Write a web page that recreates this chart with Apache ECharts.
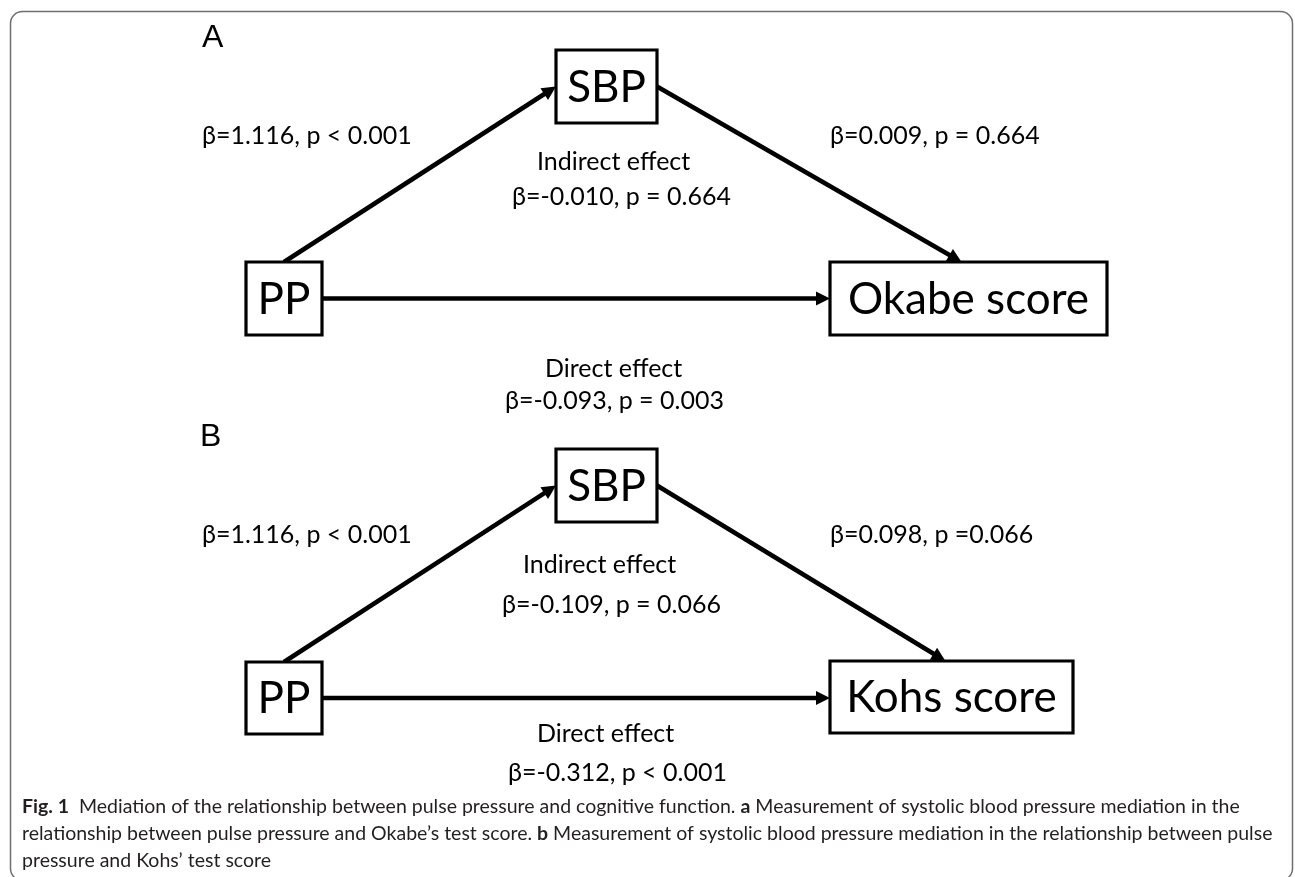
<!DOCTYPE html>
<html><head><meta charset="utf-8">
<script src="https://cdn.jsdelivr.net/npm/echarts@6/dist/echarts.min.js"></script>
<style>html,body{margin:0;padding:0;background:#fff}#c{width:1295px;height:877px}</style>
</head><body><div id="c"></div>
<script>
// ---- data ----
const panelLabels = ['A', 'B'];
const predictorNames = ['PP', 'PP'];
const mediatorNames = ['SBP', 'SBP'];
const outcomeNames = ['Okabe score', 'Kohs score'];
const pathABeta = [1.116, 1.116];
const pathAP = ['p < 0.001', 'p < 0.001'];
const pathBBeta = [0.009, 0.098];
const pathBP = ['p = 0.664', 'p =0.066'];
const indirectBeta = [-0.010, -0.109];
const indirectP = ['p = 0.664', 'p = 0.066'];
const directBeta = [-0.093, -0.312];
const directP = ['p = 0.003', 'p < 0.001'];
const effectTitles = ['Indirect effect', 'Direct effect'];
const captionLines = [
  '{b|Fig. 1}  Mediation of the relationship between pulse pressure and cognitive function. {b|a} Measurement of systolic blood pressure mediation in the',
  'relationship between pulse pressure and Okabe\u2019s test score. {b|b} Measurement of systolic blood pressure mediation in the relationship between pulse',
  'pressure and Kohs\u2019 test score'
];

// ---- layout (diagram units, y downward) ----
const layout = [
  { label: [202, 38], pred: [246, 262, 322, 335], med: [556, 50, 657, 123], out: [830, 262, 1107, 335], tipFrac: 0.475,
    tA: [202, 136], tB: [830, 136], tIndT: [537, 162], tIndV: [512, 197], tDirT: [545, 369], tDirV: [505, 401] },
  { label: [200, 437], pred: [246, 662, 322, 734], med: [556, 449, 657, 522], out: [830, 661, 1073, 733], tipFrac: 0.475,
    tA: [202, 535], tB: [830, 535], tIndT: [523, 565], tIndV: [502, 605], tDirT: [537, 734], tDirV: [508, 773] }
];

const FONT = 'Lato, "Noto Sans", sans-serif';
const fmt = (b, p) => '\u03B2=' + b.toFixed(3) + ', ' + p;

function renderPanel(params, api) {
  const i = api.value(0);
  const L = layout[i];
  const P = (x, y) => api.coord([x, y]);
  const children = [];
  const text = (pos, str, size, extra) => {
    const q = P(pos[0], pos[1]);
    children.push({ type: 'text', style: Object.assign({ text: str, x: q[0], y: q[1], align: 'left', verticalAlign: 'middle', fontFamily: FONT, fontSize: size, fill: '#000' }, extra || {}) });
  };
  const arrow = (a, b) => {
    const s = P(a[0], a[1]), e = P(b[0], b[1]);
    const dx = e[0] - s[0], dy = e[1] - s[1], len = Math.hypot(dx, dy);
    const ux = dx / len, uy = dy / len;
    const hl = 14, hw = 7;
    const bx = e[0] - ux * hl, by = e[1] - uy * hl;
    children.push({ type: 'line', shape: { x1: s[0], y1: s[1], x2: bx + ux * 2, y2: by + uy * 2 }, style: { stroke: '#000', lineWidth: 4.5 } });
    children.push({ type: 'polygon', shape: { points: [[e[0], e[1]], [bx - uy * hw, by + ux * hw], [bx + uy * hw, by - ux * hw]] }, style: { fill: '#000' } });
  };
  const box = (b, name) => {
    const p0 = P(b[0], b[1]), p1 = P(b[2], b[3]);
    children.push({ type: 'rect', shape: { x: p0[0], y: Math.min(p0[1], p1[1]), width: p1[0] - p0[0], height: Math.abs(p1[1] - p0[1]) },
      style: { fill: '#fff', stroke: '#000', lineWidth: 3.2 } });
    children.push({ type: 'text', style: { text: name, x: (p0[0] + p1[0]) / 2, y: (p0[1] + p1[1]) / 2 + 1, align: 'center', verticalAlign: 'middle', fontFamily: FONT, fontSize: 44, fill: '#000' } });
  };
  const pr = L.pred, md = L.med, ot = L.out;
  // arrows
  arrow([(pr[0] + pr[2]) / 2, pr[1]], [md[0], (md[1] + md[3]) / 2]);
  arrow([md[2], (md[1] + md[3]) / 2], [ot[0] + (ot[2] - ot[0]) * L.tipFrac, ot[1]]);
  arrow([pr[2], (pr[1] + pr[3]) / 2], [ot[0], (pr[1] + pr[3]) / 2]);
  // boxes
  box(pr, predictorNames[i]);
  box(md, mediatorNames[i]);
  box(ot, outcomeNames[i]);
  // labels
  text(L.label, panelLabels[i], 32, { fontFamily: '"Liberation Sans", Arial, sans-serif' });
  text(L.tA, fmt(pathABeta[i], pathAP[i]), 25);
  text(L.tB, fmt(pathBBeta[i], pathBP[i]), 25);
  text(L.tIndT, effectTitles[0], 25);
  text(L.tIndV, fmt(indirectBeta[i], indirectP[i]), 25);
  text(L.tDirT, effectTitles[1], 25);
  text(L.tDirV, fmt(directBeta[i], directP[i]), 25);
  return { type: 'group', children };
}

const chart = echarts.init(document.getElementById('c'), null, { renderer: 'canvas' });
const CAP = 19.5;
const capRich = { b: { fontWeight: 'bold', fontFamily: FONT, fontSize: CAP, fill: '#231f20' } };
chart.setOption({
  animation: false,
  backgroundColor: '#fff',
  grid: { left: 0, right: 0, top: 0, bottom: 0 },
  xAxis: { type: 'value', min: 0, max: 1295, show: false },
  yAxis: { type: 'value', min: 0, max: 877, inverse: true, show: false },
  series: [{
    type: 'custom',
    coordinateSystem: 'cartesian2d',
    data: panelLabels.map((_, k) => [k]),
    renderItem: renderPanel,
    clip: false
  }],
  graphic: [
    { type: 'rect', z: 0, shape: { x: 10.5, y: 11.5, width: 1282, height: 869, r: 12 }, style: { fill: 'none', stroke: '#6e6e6e', lineWidth: 1.5 } }
  ].concat(captionLines.map((t, k) => ({
    type: 'text', z: 10, x: 22, y: 807 + k * 27,
    style: { text: t, rich: capRich, fontFamily: FONT, fontSize: CAP, fill: '#231f20', verticalAlign: 'middle', align: 'left' }
  })))
});
</script>
</body></html>
